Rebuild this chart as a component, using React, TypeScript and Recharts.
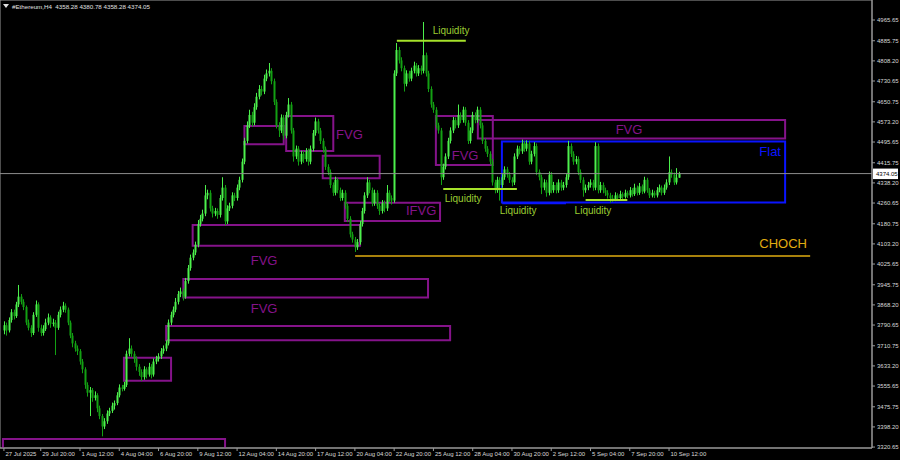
import { ComposedChart, Bar, XAxis, YAxis, ReferenceArea, ReferenceLine, ReferenceDot } from 'recharts'

// H4 candles, 27 Jul 08:00 -> 11 Sep 08:00, [open, high, low, close]
const candles: number[][] = [
  [3770, 3805, 3755, 3790], [3790, 3800, 3750, 3770], [3770, 3820, 3762, 3810], [3810, 3852, 3800, 3840], [3840, 3850, 3812, 3825], [3825, 3880, 3818, 3870],
  [3870, 3945, 3860, 3900], [3900, 3910, 3870, 3880], [3880, 3890, 3848, 3860], [3860, 3866, 3790, 3800], [3800, 3812, 3770, 3780], [3780, 3790, 3745, 3760],
  [3760, 3840, 3752, 3830], [3830, 3885, 3822, 3870], [3870, 3878, 3765, 3780], [3780, 3792, 3748, 3760], [3760, 3790, 3750, 3775], [3775, 3815, 3768, 3800],
  [3800, 3835, 3790, 3820], [3820, 3828, 3780, 3795], [3795, 3815, 3785, 3800], [3800, 3810, 3675, 3780], [3780, 3842, 3772, 3830], [3830, 3862, 3820, 3850],
  [3850, 3880, 3840, 3865], [3865, 3874, 3838, 3850], [3850, 3858, 3790, 3800], [3800, 3808, 3740, 3750], [3750, 3760, 3705, 3720], [3720, 3730, 3688, 3700],
  [3700, 3712, 3675, 3690], [3690, 3698, 3638, 3650], [3650, 3660, 3605, 3620], [3620, 3628, 3545, 3560], [3560, 3570, 3515, 3530], [3530, 3552, 3440, 3540],
  [3540, 3548, 3495, 3510], [3510, 3535, 3500, 3520], [3520, 3528, 3455, 3470], [3470, 3480, 3428, 3440], [3440, 3448, 3362, 3400], [3400, 3432, 3390, 3420],
  [3420, 3462, 3410, 3450], [3450, 3472, 3440, 3460], [3460, 3492, 3452, 3480], [3480, 3500, 3465, 3490], [3490, 3532, 3482, 3520], [3520, 3562, 3512, 3550],
  [3550, 3560, 3535, 3545], [3545, 3572, 3538, 3560], [3560, 3692, 3552, 3680], [3680, 3740, 3670, 3700], [3700, 3712, 3668, 3680], [3680, 3690, 3645, 3660],
  [3660, 3670, 3615, 3630], [3630, 3640, 3595, 3610], [3610, 3620, 3575, 3590], [3590, 3632, 3580, 3620], [3620, 3628, 3585, 3600], [3600, 3645, 3592, 3630],
  [3630, 3640, 3585, 3600], [3600, 3662, 3592, 3650], [3650, 3672, 3640, 3660], [3660, 3682, 3650, 3670], [3670, 3702, 3660, 3690], [3690, 3712, 3680, 3700],
  [3700, 3732, 3690, 3720], [3720, 3812, 3712, 3800], [3800, 3842, 3790, 3830], [3830, 3862, 3820, 3850], [3850, 3895, 3840, 3880], [3880, 3922, 3870, 3910],
  [3910, 3935, 3898, 3920], [3920, 3930, 3885, 3900], [3900, 3972, 3892, 3960], [3960, 4022, 3950, 4010], [4010, 4062, 4000, 4050], [4050, 4082, 4040, 4070],
  [4070, 4112, 4060, 4100], [4100, 4195, 4090, 4180], [4180, 4215, 4170, 4200], [4200, 4235, 4190, 4220], [4220, 4330, 4210, 4290], [4290, 4312, 4275, 4300],
  [4300, 4310, 4228, 4240], [4240, 4250, 4205, 4220], [4220, 4242, 4210, 4230], [4230, 4240, 4200, 4215], [4215, 4292, 4205, 4280], [4280, 4360, 4270, 4320],
  [4320, 4330, 4175, 4190], [4190, 4252, 4180, 4240], [4240, 4262, 4230, 4250], [4250, 4302, 4240, 4290], [4290, 4300, 4268, 4280], [4280, 4332, 4270, 4320],
  [4320, 4362, 4310, 4350], [4350, 4432, 4340, 4420], [4420, 4512, 4410, 4500], [4500, 4575, 4490, 4560], [4560, 4620, 4550, 4600], [4600, 4612, 4555, 4570],
  [4570, 4645, 4560, 4630], [4630, 4685, 4620, 4670], [4670, 4715, 4660, 4700], [4700, 4712, 4675, 4690], [4690, 4755, 4680, 4740], [4740, 4775, 4730, 4760],
  [4760, 4800, 4748, 4770], [4770, 4780, 4718, 4730], [4730, 4740, 4638, 4650], [4650, 4660, 4548, 4560], [4560, 4572, 4515, 4540], [4540, 4602, 4530, 4590],
  [4590, 4600, 4505, 4520], [4520, 4612, 4510, 4600], [4600, 4665, 4590, 4640], [4640, 4650, 4528, 4540], [4540, 4550, 4420, 4440], [4440, 4482, 4430, 4470],
  [4470, 4480, 4405, 4420], [4420, 4462, 4410, 4450], [4450, 4460, 4415, 4430], [4430, 4472, 4420, 4460], [4460, 4470, 4405, 4420], [4420, 4482, 4410, 4470],
  [4470, 4542, 4460, 4530], [4530, 4590, 4520, 4575], [4575, 4585, 4528, 4540], [4540, 4550, 4488, 4500], [4500, 4510, 4455, 4470], [4470, 4478, 4388, 4400],
  [4400, 4410, 4368, 4380], [4380, 4390, 4318, 4330], [4330, 4340, 4288, 4300], [4300, 4362, 4290, 4350], [4350, 4358, 4298, 4310], [4310, 4320, 4268, 4280],
  [4280, 4312, 4270, 4300], [4300, 4310, 4238, 4250], [4250, 4260, 4188, 4200], [4200, 4210, 4128, 4140], [4140, 4150, 4108, 4120], [4120, 4130, 4072, 4090],
  [4090, 4122, 4080, 4110], [4110, 4192, 4100, 4180], [4180, 4242, 4170, 4230], [4230, 4302, 4220, 4290], [4290, 4360, 4280, 4340], [4340, 4350, 4298, 4310],
  [4310, 4320, 4248, 4260], [4260, 4312, 4250, 4300], [4300, 4310, 4238, 4250], [4250, 4260, 4215, 4230], [4230, 4272, 4220, 4260], [4260, 4270, 4225, 4240],
  [4240, 4330, 4230, 4300], [4300, 4310, 4265, 4280], [4280, 4290, 4255, 4270], [4270, 4772, 4262, 4760], [4760, 4877, 4750, 4850], [4850, 4862, 4798, 4810],
  [4810, 4822, 4768, 4780], [4780, 4790, 4690, 4720], [4720, 4772, 4710, 4760], [4760, 4770, 4728, 4740], [4740, 4782, 4730, 4770], [4770, 4805, 4760, 4790],
  [4790, 4800, 4748, 4760], [4760, 4792, 4750, 4780], [4780, 4790, 4755, 4770], [4770, 4958, 4760, 4830], [4830, 4840, 4748, 4760], [4760, 4770, 4688, 4700],
  [4700, 4710, 4628, 4640], [4640, 4650, 4608, 4620], [4620, 4630, 4548, 4560], [4560, 4570, 4528, 4540], [4540, 4550, 4330, 4360], [4360, 4412, 4350, 4400],
  [4400, 4452, 4390, 4440], [4440, 4512, 4430, 4500], [4500, 4552, 4490, 4540], [4540, 4592, 4530, 4580], [4580, 4590, 4548, 4560], [4560, 4640, 4550, 4600],
  [4600, 4610, 4568, 4580], [4580, 4632, 4570, 4620], [4620, 4630, 4558, 4570], [4570, 4580, 4488, 4500], [4500, 4552, 4490, 4540], [4540, 4612, 4530, 4600],
  [4600, 4610, 4568, 4580], [4580, 4632, 4570, 4620], [4620, 4630, 4548, 4560], [4560, 4570, 4488, 4500], [4500, 4510, 4458, 4470], [4470, 4480, 4438, 4450],
  [4450, 4460, 4408, 4420], [4420, 4430, 4328, 4340], [4340, 4350, 4298, 4310], [4310, 4362, 4300, 4350], [4350, 4360, 4270, 4330], [4330, 4372, 4320, 4360],
  [4360, 4402, 4350, 4390], [4390, 4400, 4358, 4370], [4370, 4380, 4338, 4350], [4350, 4360, 4325, 4340], [4340, 4452, 4330, 4440], [4440, 4482, 4430, 4470],
  [4470, 4480, 4448, 4460], [4460, 4505, 4450, 4490], [4490, 4500, 4458, 4470], [4470, 4502, 4460, 4490], [4490, 4500, 4408, 4420], [4420, 4462, 4410, 4450],
  [4450, 4495, 4440, 4480], [4480, 4490, 4368, 4380], [4380, 4390, 4348, 4360], [4360, 4370, 4295, 4320], [4320, 4352, 4310, 4340], [4340, 4350, 4285, 4300],
  [4300, 4382, 4290, 4370], [4370, 4380, 4298, 4310], [4310, 4342, 4300, 4330], [4330, 4340, 4298, 4310], [4310, 4352, 4300, 4340], [4340, 4350, 4308, 4320],
  [4320, 4342, 4310, 4330], [4330, 4372, 4320, 4360], [4360, 4500, 4350, 4480], [4480, 4490, 4438, 4450], [4450, 4460, 4408, 4420], [4420, 4442, 4410, 4430],
  [4430, 4440, 4368, 4380], [4380, 4390, 4338, 4350], [4350, 4360, 4285, 4310], [4310, 4332, 4300, 4320], [4320, 4342, 4310, 4330], [4330, 4352, 4320, 4340],
  [4340, 4350, 4308, 4320], [4320, 4495, 4310, 4480], [4480, 4490, 4298, 4310], [4310, 4342, 4300, 4330], [4330, 4340, 4298, 4310], [4310, 4320, 4288, 4300],
  [4300, 4310, 4278, 4290], [4290, 4300, 4262, 4280], [4280, 4292, 4265, 4275], [4275, 4302, 4268, 4290], [4290, 4298, 4270, 4280], [4280, 4308, 4272, 4295],
  [4295, 4302, 4275, 4285], [4285, 4312, 4278, 4300], [4300, 4308, 4280, 4290], [4290, 4322, 4282, 4310], [4310, 4318, 4285, 4295], [4295, 4335, 4288, 4320],
  [4320, 4328, 4290, 4300], [4300, 4338, 4292, 4325], [4325, 4332, 4295, 4305], [4305, 4362, 4298, 4350], [4350, 4358, 4300, 4310], [4310, 4318, 4280, 4290],
  [4290, 4312, 4282, 4300], [4300, 4308, 4280, 4290], [4290, 4322, 4282, 4310], [4310, 4332, 4302, 4320], [4320, 4328, 4290, 4300], [4300, 4332, 4292, 4320],
  [4320, 4352, 4312, 4340], [4340, 4440, 4330, 4380], [4380, 4390, 4358, 4370], [4370, 4378, 4330, 4340], [4340, 4395, 4332, 4358.28], [4358.28, 4380.78, 4358.28, 4374.05],
]

const timeTicks = [0, 15, 31, 47, 63, 79, 95, 111, 127, 143, 159, 175, 191, 207, 223, 239, 255, 271]
const timeLabels = [
  '27 Jul 2025', '29 Jul 20:00', '1 Aug 12:00', '4 Aug 04:00', '6 Aug 20:00', '9 Aug 12:00',
  '12 Aug 04:00', '14 Aug 20:00', '17 Aug 12:00', '20 Aug 04:00', '22 Aug 20:00', '25 Aug 12:00',
  '28 Aug 04:00', '30 Aug 20:00', '2 Sep 12:00', '5 Sep 04:00', '7 Sep 20:00', '10 Sep 12:00',
]
const priceTicks = [
  4965.65, 4885.75, 4808.2, 4730.65, 4650.75, 4573.2, 4495.65, 4415.75, 4338.2, 4260.65, 4180.75,
  4103.2, 4025.65, 3945.75, 3868.2, 3790.65, 3710.75, 3633.2, 3555.65, 3475.75, 3398.2, 3320.65,
]

// zones drawn on the chart: [fromBar, toBar, lowPrice, highPrice]
const fvgZones = [
  [-0.4, 90.1, 3300, 3352],
  [48.9, 68.1, 3576, 3665],
  [66.1, 181.8, 3732, 3787],
  [73.1, 172.8, 3897, 3968],
  [76.9, 145.1, 4096, 4176],
  [98, 114, 4487, 4557],
  [115, 134.2, 4461, 4596],
  [129.9, 153.1, 4356, 4443],
  [138.9, 177.7, 4191, 4262],
  [176, 199.2, 4407, 4596],
  [193.1, 318.3, 4509, 4580],
]
const flatZone = [202.9, 318.3, 4263, 4498]
// [fromBar, toBar, price]
const liquidityLevels = [[160.1, 188.2, 4886], [179, 209, 4314.6], [237, 254, 4272]]
const flatLiquidity = [203, 229, 4259]
const chochLevel = [143.1, 328.5, 4056.6]

// [bar, price]
const fvgTags = [[106, 3856], [106, 4041], [140.8, 4526], [187.9, 4445], [254.7, 4542]]
const liquidityTags = [[182.2, 4927], [187.1, 4280], [209.5, 4230], [240, 4230]]
const ifvgTag = [170, 4231]
const flatTag = [312.2, 4461]
const chochTag = [317.5, 4103]

const lastPrice = 4374.05

const BULL = '#4cf04c'
const BEAR = '#13a013'
const PURPLE = '#85138a'
const LIQ = '#9acd32'
const LIQ_LINE = '#a6e22a'
const BLUE = '#0a14ff'
const GOLD = '#e0ac10'
const FONT = '"Liberation Sans", Arial, sans-serif'

const data = candles.map(([o, h, l, c], i) => ({ i, o, h, l, c, range: [l, h] }))

const Candle = (props: any) => {
  const { x, y, width, height, payload } = props
  const { o, h, l, c } = payload
  const cx = Math.round(x + width / 2)
  const k = height / (h - l || 1)
  const top = y + (h - Math.max(o, c)) * k
  const bot = y + (h - Math.min(o, c)) * k
  const col = c >= o ? BULL : BEAR
  return (
    <g>
      <line x1={cx + 0.5} x2={cx + 0.5} y1={y} y2={y + height} stroke={col} strokeWidth={1} />
      <rect x={cx - 0.5} y={top} width={2} height={Math.max(1, bot - top)} fill={col} />
    </g>
  )
}

const TimeTick = ({ x, payload }: any) => {
  const k = timeTicks.indexOf(payload.value)
  return (
    <g>
      <line x1={x} x2={x} y1={448} y2={451} stroke="#9a9a9a" />
      <text x={x + 1.5} y={453.5} fontSize={6} fontFamily={FONT} fill="#d8d8d8" dominantBaseline="central">
        {timeLabels[k]}
      </text>
    </g>
  )
}

const PriceTag = ({ viewBox }: any) => {
  const x = viewBox.x + viewBox.width
  const y = viewBox.y
  return (
    <g>
      <rect x={x + 1} y={y - 5} width={25} height={10.5} fill="#ffffff" />
      <text x={x + 4} y={y + 0.5} fontSize={6} fontFamily={FONT} fill="#000" dominantBaseline="central">
        {lastPrice.toFixed(2)}
      </text>
    </g>
  )
}

const tag = (text: string, color: string, size: number) => (p: any) => (
  <text x={p.cx} y={p.cy} fill={color} fontSize={size} fontFamily={FONT} textAnchor="middle" dominantBaseline="central">
    {text}
  </text>
)

export default function App() {
  const last = candles[candles.length - 1]
  return (
    <div style={{ position: 'absolute', left: 0, top: 0, width: 900, height: 460, background: '#000' }}>
      <ComposedChart width={900} height={460} data={data} margin={{ top: 0, right: 0, bottom: 0, left: 0 }}>
        <XAxis
          dataKey="i"
          type="number"
          domain={[-1.6, 353.7]}
          allowDataOverflow
          ticks={timeTicks}
          interval={0}
          height={12}
          tickSize={0}
          tickMargin={0}
          tick={<TimeTick />}
          tickLine={false}
          axisLine={{ stroke: '#9a9a9a' }}
        />
        <YAxis
          orientation="right"
          type="number"
          domain={[3317, 5042.7]}
          allowDataOverflow
          ticks={priceTicks}
          interval={0}
          width={28}
          tickSize={3}
          tickFormatter={(v: number) => v.toFixed(2)}
          tick={{ fontSize: 6, fill: '#d8d8d8', fontFamily: FONT }}
          tickLine={{ stroke: '#9a9a9a' }}
          axisLine={{ stroke: '#9a9a9a' }}
        />
        <ReferenceArea x1={-1.6} x2={353.7} y1={3317} y2={5042.7} fill="none" stroke="#9a9a9a" strokeWidth={1} ifOverflow="visible" />
        <ReferenceLine y={lastPrice} stroke="#8c8c8c" strokeWidth={1} label={<PriceTag />} />

        {fvgZones.map(([a, b, lo, hi], k) => (
          <ReferenceArea key={'z' + k} x1={a} x2={b} y1={lo} y2={hi} fill="none" stroke={PURPLE} strokeWidth={2} fillOpacity={0} ifOverflow="hidden" />
        ))}
        <ReferenceArea x1={flatZone[0]} x2={flatZone[1]} y1={flatZone[2]} y2={flatZone[3]} fill="none" fillOpacity={0} stroke={BLUE} strokeWidth={2} ifOverflow="visible" />

        <ReferenceLine segment={[{ x: chochLevel[0], y: chochLevel[2] }, { x: chochLevel[1], y: chochLevel[2] }]} stroke={GOLD} strokeWidth={1.5} ifOverflow="visible" />
        {liquidityLevels.map(([a, b, p], k) => (
          <ReferenceLine key={'l' + k} segment={[{ x: a, y: p }, { x: b, y: p }]} stroke={LIQ_LINE} strokeWidth={2} ifOverflow="visible" />
        ))}
        <ReferenceLine segment={[{ x: flatLiquidity[0], y: flatLiquidity[2] }, { x: flatLiquidity[1], y: flatLiquidity[2] }]} stroke={BLUE} strokeWidth={1.5} ifOverflow="visible" />

        <Bar dataKey="range" barSize={2} isAnimationActive={false} shape={(p: any) => <Candle {...p} />} />

        {fvgTags.map(([x, y], k) => (
          <ReferenceDot key={'f' + k} x={x} y={y} r={0} ifOverflow="visible" shape={tag('FVG', PURPLE, 13)} />
        ))}
        {liquidityTags.map(([x, y], k) => (
          <ReferenceDot key={'q' + k} x={x} y={y} r={0} ifOverflow="visible" shape={tag('Liquidity', LIQ, 10)} />
        ))}
        <ReferenceDot x={ifvgTag[0]} y={ifvgTag[1]} r={0} ifOverflow="visible" shape={tag('IFVG', PURPLE, 13)} />
        <ReferenceDot x={flatTag[0]} y={flatTag[1]} r={0} ifOverflow="visible" shape={tag('Flat', BLUE, 13)} />
        <ReferenceDot x={chochTag[0]} y={chochTag[1]} r={0} ifOverflow="visible" shape={tag('CHOCH', GOLD, 13)} />
      </ComposedChart>
      <svg width={200} height={14} style={{ position: 'absolute', left: 0, top: 0, pointerEvents: 'none' }}>
        <polygon points="3,4 9,4 6,8" fill="#e0e0e0" />
        <text x={12} y={6.5} fontSize={6.2} fontFamily={FONT} fill="#e0e0e0" dominantBaseline="central" style={{ whiteSpace: 'pre' }}>
          {`#Ethereum,H4  ${last[0].toFixed(2)} ${last[1].toFixed(2)} ${last[2].toFixed(2)} ${last[3].toFixed(2)}`}
        </text>
      </svg>
    </div>
  )
}
